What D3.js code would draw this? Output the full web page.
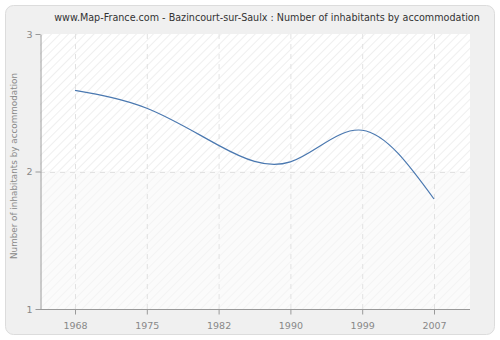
<!DOCTYPE html>
<html>
<head>
<meta charset="utf-8">
<script src="https://cdn.jsdelivr.net/npm/d3@7"></script>
<style>
  body { margin: 0; background: #fff; }
  text { font-family: "DejaVu Sans", Verdana, sans-serif; }
</style>
</head>
<body>
<div id="chart"></div>
<script>
// data
const years = ['1968', '1975', '1982', '1990', '1999', '2007'];
const inhabitants = [2.59, 2.46, 2.19, 2.07, 2.30, 1.80];
const yTicks = [1, 2, 3];

const width = 500, height = 340;
const margin = { top: 34, right: 30, bottom: 31, left: 40 };

const svg = d3.select('#chart').append('svg')
  .attr('width', width)
  .attr('height', height);

const defs = svg.append('defs');

// hatch patterns for the plot background
function hatch(id, bg, stroke) {
  const p = defs.append('pattern')
    .attr('id', id)
    .attr('patternUnits', 'userSpaceOnUse')
    .attr('width', 6)
    .attr('height', 6)
    .attr('patternTransform', 'rotate(45)');
  p.append('rect').attr('width', 6).attr('height', 6).attr('fill', bg);
  p.append('line')
    .attr('x1', 0).attr('y1', 0).attr('x2', 0).attr('y2', 6)
    .attr('stroke', stroke).attr('stroke-width', 2);
}
hatch('hatchTop', '#ffffff', '#efefef');
hatch('hatchBottom', '#fbfbfb', '#f4f4f4');

// outer panel
svg.append('rect')
  .attr('x', 5.5).attr('y', 5.5)
  .attr('width', width - 11).attr('height', height - 11)
  .attr('rx', 8)
  .attr('fill', '#f0f0f0')
  .attr('stroke', '#dcdcdc');

const x = d3.scalePoint()
  .domain(years)
  .range([margin.left + 35, width - margin.right - 36]);

const y = d3.scaleLinear()
  .domain([1, 3])
  .range([height - margin.bottom, margin.top]);

const plotLeft = margin.left, plotRight = width - margin.right;

// background bands
svg.append('rect')
  .attr('x', plotLeft).attr('y', y(3))
  .attr('width', plotRight - plotLeft).attr('height', y(2) - y(3))
  .attr('fill', 'url(#hatchTop)');
svg.append('rect')
  .attr('x', plotLeft).attr('y', y(2))
  .attr('width', plotRight - plotLeft).attr('height', y(1) - y(2))
  .attr('fill', 'url(#hatchBottom)');

// grid
svg.append('g')
  .selectAll('line')
  .data(years)
  .join('line')
  .attr('x1', d => x(d) + 0.5).attr('x2', d => x(d) + 0.5)
  .attr('y1', y(3)).attr('y2', y(1))
  .attr('stroke', '#e2e2e2')
  .attr('stroke-dasharray', '5,5');

svg.append('g')
  .selectAll('line')
  .data(yTicks.slice(1, 2))
  .join('line')
  .attr('x1', plotLeft).attr('x2', plotRight)
  .attr('y1', d => Math.round(y(d)) + 0.5).attr('y2', d => Math.round(y(d)) + 0.5)
  .attr('stroke', '#e2e2e2')
  .attr('stroke-dasharray', '5,5');

// axes
const xAxis = svg.append('g')
  .attr('transform', `translate(0,${y(1) + 0.5})`)
  .call(d3.axisBottom(x).tickSize(5).tickSizeOuter(0));
xAxis.select('.domain').remove();
xAxis.append('line')
  .attr('x1', plotLeft).attr('x2', plotRight)
  .attr('stroke', '#999');

const yAxis = svg.append('g')
  .attr('transform', `translate(${plotLeft + 0.5},0)`)
  .call(d3.axisLeft(y).tickValues(yTicks).tickFormat(d3.format('d')).tickSize(5).tickSizeOuter(0));

svg.selectAll('.tick line').attr('stroke', '#999');
svg.selectAll('.domain').attr('stroke', '#999');
svg.selectAll('.tick text')
  .attr('fill', '#888')
  .attr('font-size', 9.5)
  .attr('font-family', '"DejaVu Sans", Verdana, sans-serif');
xAxis.selectAll('.tick text').attr('dy', '1.25em');

// line
const line = d3.line()
  .x((d, i) => x(years[i]))
  .y(d => y(d))
  .curve(d3.curveNatural);

svg.append('path')
  .datum(inhabitants)
  .attr('d', line)
  .attr('fill', 'none')
  .attr('stroke', '#4a78b0')
  .attr('stroke-width', 1.2);

// title
svg.append('text')
  .attr('x', 267)
  .attr('y', 21)
  .attr('text-anchor', 'middle')
  .attr('font-size', 9.6)
  .attr('fill', '#333')
  .text('www.Map-France.com - Bazincourt-sur-Saulx : Number of inhabitants by accommodation');

// y label
svg.append('text')
  .attr('transform', `translate(17,166) rotate(-90)`)
  .attr('text-anchor', 'middle')
  .attr('font-size', 8.8)
  .attr('fill', '#888')
  .text('Number of inhabitants by accommodation');
</script>
</body>
</html>
